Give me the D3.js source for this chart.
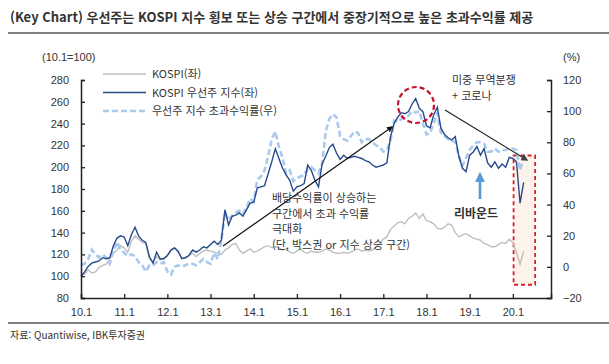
<!DOCTYPE html>
<html lang="ko">
<head>
<meta charset="utf-8">
<title>Key Chart</title>
<script src="https://d3js.org/d3.v7.min.js"></script>
<style>
  body { margin: 0; background: #fff; }
  svg text { font-family: "Liberation Sans", "Noto Sans CJK KR", sans-serif; fill: #333; }
  .kr { font-family: "Noto Sans CJK KR", sans-serif; }
</style>
</head>
<body>
<div id="chart"></div>
<script>
"use strict"

// 2010.1 부터 월별
var startYear = 2010;
var kospi = [100,102,106,103,104,108,110,111,116,121,124,128,
  126,122,132,137,134,131,130,116,113,118,115,116,
  119,124,126,122,117,116,119,121,118,121,123,124,
  123,122,121,120,124,126,129,130,124,121,123,125,
  122,123,125,127,128,126,127,126,124,125,122,121,
  123,125,122,121,123,122,122,123,125,124,122,121,
  121,122,121,122,124,125,123,124,123,124,127,130,
  134,136,143,146,149,150,148,153,155,158,153,157,
  151,150,148,144,143,145,148,147,140,136,138,139,
  137,135,134,133,130,129,127,127,129,131,130,134,
  131,122,111,123];
var prefIndex = [100,104,109,112,113,114,117,116,117,128,135,137,
  136,128,138,145,137,133,131,118,112,122,116,116,
  119,124,126,123,116,117,119,124,122,124,127,126,
  129,132,129,133,161,147,155,156,158,155,161,167,
  168,181,182,183,194,205,217,208,199,193,188,178,
  182,183,185,202,197,188,182,203,210,218,221,213,
  207,211,208,209,210,209,208,206,205,202,200,201,
  202,204,228,240,246,250,249,251,258,263,254,251,
  238,236,248,255,236,230,227,225,228,210,199,196,
  211,214,219,211,217,204,200,205,199,203,200,209,
  208,205,167,186];
var excessRet = [1,2,5,11,8,6,8,6,2,10,16,11,
  9,7,8,7,3,1,-3,1,1,3,2,3,
  -3,-5,0,1,0,1,2,2,1,3,5,3,
  2,9,5,17,35,30,33,35,36,34,38,44,
  42,56,58,62,71,82,87,77,70,60,62,55,
  57,58,59,63,64,62,60,66,87,95,98,96,
  84,82,81,84,87,86,80,82,82,80,78,77,
  74,75,81,94,93,95,96,97,100,99,100,92,
  85,86,92,99,86,84,82,81,80,71,65,70,
  75,78,80,80,79,74,74,76,74,75,75,76,
  76,75,62,70];
var xTickLabels = ["10.1","11.1","12.1","13.1","14.1","15.1","16.1","17.1","18.1","19.1","20.1"];
var leftTicks = [80,100,120,140,160,180,200,220,240,260,280];
var rightTicks = [-20,0,20,40,60,80,100,120];
var legendNames = ["KOSPI(좌)", "KOSPI 우선주 지수(좌)", "우선주 지수 초과수익률(우)"];

var width = 609, height = 364;
var margin = {top: 80, right: 58, bottom: 66, left: 81};
var plotW = width - margin.left - margin.right;
var plotH = height - margin.top - margin.bottom;

var svg = d3.select("#chart").append("svg")
  .attr("width", width).attr("height", height);

// 제목
svg.append("text").attr("class", "kr")
  .attr("x", 10).attr("y", 22)
  .attr("font-size", 13).attr("font-weight", 700)
  .attr("fill", "#111")
  .text("(Key Chart) 우선주는 KOSPI 지수 횡보 또는 상승 구간에서 중장기적으로 높은 초과수익률 제공");
svg.append("line").attr("x1", 8).attr("x2", 609).attr("y1", 33).attr("y2", 33)
  .attr("stroke", "#000").attr("stroke-width", 1.2);

var g = svg.append("g").attr("transform", "translate(" + margin.left + "," + margin.top + ")");

var x = d3.scaleLinear().domain([0, 130.6]).range([0, plotW]);
var yL = d3.scaleLinear().domain([80, 280]).range([plotH, 0]);
var yR = d3.scaleLinear().domain([-20, 120]).range([plotH, 0]);

// 빨간 점선 박스 (코로나 구간)
g.append("rect")
  .attr("x", x(120.2)).attr("y", yR(71.5))
  .attr("width", x(126.2) - x(120.2)).attr("height", yR(-11.5) - yR(71.5))
  .attr("fill", "#fcf4ea").attr("stroke", "#d9202a")
  .attr("stroke-width", 1.8).attr("stroke-dasharray", "4,3");

var lineL = function(arr) {
  return d3.line().x((d, i) => x(i)).y(d => yL(d))(arr);
};
var lineR = d3.line().x((d, i) => x(i)).y(d => yR(d));

g.append("path").attr("d", lineL(kospi))
  .attr("fill", "none").attr("stroke", "#bfbfbf").attr("stroke-width", 1.4);
g.append("path").attr("d", lineR(excessRet))
  .attr("fill", "none").attr("stroke", "#a9c9ee").attr("stroke-width", 2.6)
  .attr("stroke-dasharray", "6,3");
g.append("path").attr("d", lineL(prefIndex))
  .attr("fill", "none").attr("stroke", "#274a8c").attr("stroke-width", 1.4);

// 축
var axL = g.append("g").call(d3.axisLeft(yL).tickValues(leftTicks).tickSize(-4).tickPadding(12));
var axR = g.append("g").attr("transform", "translate(" + plotW + ",0)")
  .call(d3.axisRight(yR).tickValues(rightTicks).tickSize(-4).tickPadding(12).tickFormat(d => d < 0 ? "\u2212" + (-d) : d));
var axB = g.append("g").attr("transform", "translate(0," + plotH + ")")
  .call(d3.axisBottom(x).tickValues(xTickLabels.map((t, i) => i * 12)).tickSize(-4).tickPadding(10)
    .tickFormat((d, i) => xTickLabels[i]));
[axL, axR, axB].forEach(function(a) {
  a.select(".domain").attr("stroke", "#222").attr("stroke-width", 1.5);
  a.selectAll(".tick line").attr("stroke", "#222").attr("stroke-width", 1.3);
  a.selectAll(".tick text").attr("font-size", 11).attr("fill", "#444")
    .attr("font-family", "Liberation Sans, sans-serif");
});

svg.append("text").attr("x", 42).attr("y", 61).attr("font-size", 11).attr("fill", "#444").text("(10.1=100)");
svg.append("text").attr("x", 563).attr("y", 61).attr("font-size", 11).attr("fill", "#444").text("(%)");

// 범례
var legStyles = [
  {stroke: "#bfbfbf", w: 1.4, dash: null},
  {stroke: "#274a8c", w: 1.4, dash: null},
  {stroke: "#a9c9ee", w: 2.6, dash: "6,3"}
];
legendNames.forEach(function(name, i) {
  var yy = 74 + i * 18.5;
  svg.append("line").attr("x1", 103).attr("x2", 146).attr("y1", yy).attr("y2", yy)
    .attr("stroke", legStyles[i].stroke).attr("stroke-width", legStyles[i].w)
    .attr("stroke-dasharray", legStyles[i].dash);
  svg.append("text").attr("class", "kr").attr("x", 152).attr("y", yy + 4)
    .attr("font-size", 11).attr("fill", "#444").text(name);
});

// 화살표
var defs = svg.append("defs");
defs.append("marker").attr("id", "headBlack").attr("viewBox", "0 0 10 10")
  .attr("refX", 8).attr("refY", 5).attr("markerWidth", 5).attr("markerHeight", 5)
  .attr("orient", "auto").append("path").attr("d", "M0,0L10,5L0,10Z").attr("fill", "#111");
defs.append("marker").attr("id", "headGray").attr("viewBox", "0 0 10 10")
  .attr("refX", 8).attr("refY", 5).attr("markerWidth", 6).attr("markerHeight", 6)
  .attr("orient", "auto").append("path").attr("d", "M0,0L10,5L0,10Z").attr("fill", "#444");
defs.append("marker").attr("id", "headBlue").attr("viewBox", "0 0 10 10")
  .attr("refX", 8).attr("refY", 5).attr("markerWidth", 4).attr("markerHeight", 4)
  .attr("orient", "auto").append("path").attr("d", "M0,0L10,5L0,10Z").attr("fill", "#5b9bd5");

svg.append("line").attr("x1", 223).attr("y1", 246).attr("x2", 392).attr("y2", 127)
  .attr("stroke", "#111").attr("stroke-width", 1.2).attr("marker-end", "url(#headBlack)");
svg.append("line").attr("x1", 445).attr("y1", 110).attr("x2", 527).attr("y2", 160)
  .attr("stroke", "#222").attr("stroke-width", 1.2).attr("marker-end", "url(#headGray)");
svg.append("line").attr("x1", 480).attr("y1", 199).attr("x2", 480).attr("y2", 174)
  .attr("stroke", "#5b9bd5").attr("stroke-width", 2.6).attr("marker-end", "url(#headBlue)");

// 빨간 점선 원
svg.append("circle").attr("cx", 416).attr("cy", 105).attr("r", 18)
  .attr("fill", "none").attr("stroke", "#c8102e").attr("stroke-width", 2.2)
  .attr("stroke-dasharray", "5,3");

// 주석
var note1 = ["배당수익률이 상승하는", "구간에서 초과 수익률", "극대화", "(단, 박스권 or 지수 상승 구간)"];
note1.forEach(function(t, i) {
  svg.append("text").attr("class", "kr").attr("x", 272).attr("y", 202 + i * 15.7)
    .attr("font-size", 11).attr("fill", "#222").text(t);
});
svg.append("text").attr("class", "kr").attr("x", 452).attr("y", 84)
  .attr("font-size", 11).attr("fill", "#222").text("미중 무역분쟁");
svg.append("text").attr("class", "kr").attr("x", 452).attr("y", 100)
  .attr("font-size", 11).attr("fill", "#222").text("+ 코로나");
svg.append("text").attr("class", "kr").attr("x", 454).attr("y", 218)
  .attr("font-size", 12).attr("font-weight", 700).attr("fill", "#333").text("리바운드");

// 하단
svg.append("line").attr("x1", 8).attr("x2", 609).attr("y1", 323).attr("y2", 323)
  .attr("stroke", "#000").attr("stroke-width", 1.2);
svg.append("text").attr("class", "kr").attr("x", 10).attr("y", 339)
  .attr("font-size", 10).attr("fill", "#222").text("자료: Quantiwise, IBK투자증권");
</script>
</body>
</html>
